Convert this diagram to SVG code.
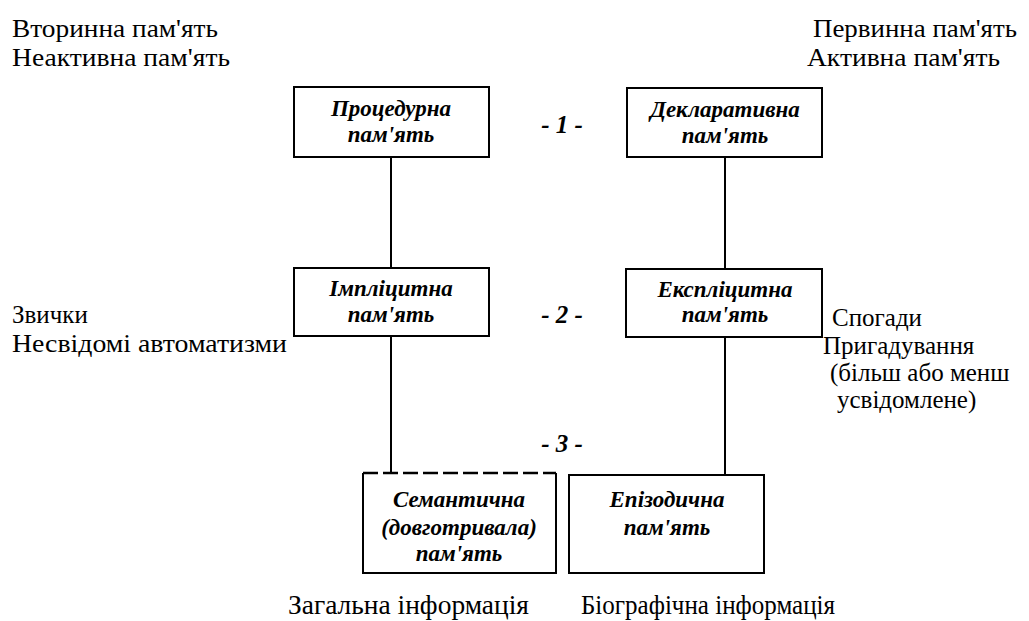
<svg xmlns="http://www.w3.org/2000/svg" width="1029" height="621" viewBox="0 0 1029 621">
<style>
.box{fill:#fff;stroke:#000;stroke-width:2}
.nt{font-weight:bold;font-style:italic;font-size:23px;text-anchor:middle;fill:#000}
.lv{font-weight:bold;font-style:italic;font-size:25px;text-anchor:middle;fill:#000}
.tx{font-size:25px;fill:#000}
.bt{font-size:27px;fill:#000}
.ln{stroke:#000;stroke-width:2;fill:none}
</style>
<g font-family="Liberation Serif, serif">
<g id="connectors">
<line class="ln" x1="391" y1="157" x2="391" y2="268"/>
<line class="ln" x1="391" y1="336" x2="391" y2="473"/>
<line class="ln" x1="725" y1="157" x2="725" y2="269"/>
<line class="ln" x1="725" y1="337" x2="725" y2="475"/>
</g>
<g id="procedural">
<rect class="box" x="294" y="87" width="195" height="70"/>
<text class="nt" x="391" y="116">Процедурна</text>
<text class="nt" x="391" y="142">пам'ять</text>
</g>
<g id="declarative">
<rect class="box" x="627" y="88" width="195" height="69"/>
<text class="nt" x="725" y="117">Декларативна</text>
<text class="nt" x="725" y="143">пам'ять</text>
</g>
<g id="implicit">
<rect class="box" x="294" y="268" width="195" height="68"/>
<text class="nt" x="391" y="296">Імпліцитна</text>
<text class="nt" x="391" y="322">пам'ять</text>
</g>
<g id="explicit">
<rect class="box" x="626" y="269" width="196" height="68"/>
<text class="nt" x="725" y="297">Експліцитна</text>
<text class="nt" x="725" y="322">пам'ять</text>
</g>
<g id="semantic">
<path class="ln" d="M363 473 V573 H556 V473"/>
<line x1="363" y1="473" x2="556" y2="473" stroke="#000" stroke-width="2.5" stroke-dasharray="15 5"/>
<text class="nt" x="459" y="507">Семантична</text>
<text class="nt" x="459" y="535">(довготривала)</text>
<text class="nt" x="459" y="561">пам'ять</text>
</g>
<g id="episodic">
<rect class="box" x="569" y="475" width="195" height="98"/>
<text class="nt" x="667" y="507">Епізодична</text>
<text class="nt" x="667" y="535">пам'ять</text>
</g>
<g id="levels">
<text class="lv" x="562" y="133">- 1 -</text>
<text class="lv" x="562" y="323" font-weight="normal">- 2 -</text>
<text class="lv" x="562" y="452">- 3 -</text>
</g>
<g id="labels">
<text class="tx" x="12" y="37" textLength="206" lengthAdjust="spacingAndGlyphs">Вторинна пам'ять</text>
<text class="tx" x="12" y="66" textLength="218" lengthAdjust="spacingAndGlyphs">Неактивна пам'ять</text>
<text class="tx" x="813" y="37" textLength="204" lengthAdjust="spacingAndGlyphs">Первинна пам'ять</text>
<text class="tx" x="807" y="66" textLength="193" lengthAdjust="spacingAndGlyphs">Активна пам'ять</text>
<text class="tx" x="12" y="323">Звички</text>
<text class="tx" x="12" y="352" textLength="275" lengthAdjust="spacingAndGlyphs">Несвідомі автоматизми</text>
<text class="tx" x="832" y="326">Спогади</text>
<text class="tx" x="823" y="354">Пригадування</text>
<text class="tx" x="830" y="381">(більш або менш</text>
<text class="tx" x="837" y="408">усвідомлене)</text>
<text class="bt" x="288" y="614" textLength="241" lengthAdjust="spacingAndGlyphs">Загальна інформація</text>
<text class="bt" x="581" y="614" textLength="254" lengthAdjust="spacingAndGlyphs">Біографічна інформація</text>
</g>
</g>
</svg>
